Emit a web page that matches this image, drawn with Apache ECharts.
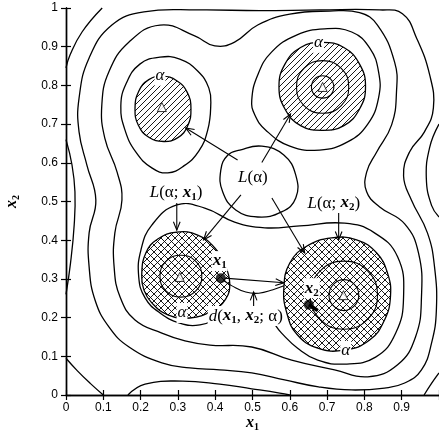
<!DOCTYPE html>
<html><head><meta charset="utf-8">
<script src="https://cdn.jsdelivr.net/npm/echarts@6/dist/echarts.min.js"></script>
<style>html,body{margin:0;padding:0;background:#fff}#c{width:439px;height:430px}</style>
</head><body><div id="c"></div>
<script>
// ---- axis ticks ----
const xTickValues = [0,0.1,0.2,0.3,0.4,0.5,0.6,0.7,0.8,0.9];
const yTickValues = [0,0.1,0.2,0.3,0.4,0.5,0.6,0.7,0.8,0.9,1];

// ---- open contour pieces (touching the frame) ----
const cornerBL = [[0,0.095],[0.03,0.063],[0.065,0.03],[0.1,0]];
const cornerTL = [[0,0.845],[0.011,0.879],[0.043,0.938],[0.097,1.0]];
const leftDent = [[0,0.66],[0.016,0.595],[0.024,0.525],[0.022,0.44],[0.012,0.34],[0,0.26]];
const bottomBump = [[0.166,0],[0.212,0.028],[0.313,0.036],[0.412,0.028],[0.498,0.016],[0.573,0.005],[0.6,0]];
const cornerBR = [[0.96,0],[0.98,0.03],[1.0,0.057]];
const rightDent = [[1.0,0.70],[0.975,0.64],[0.966,0.56],[0.98,0.49],[1.0,0.46]];

// ---- closed contours ----
const ringA = [[0.257,0.083],[0.169,0.124],[0.115,0.176],[0.078,0.245],[0.062,0.331],[0.062,0.419],[0.080,0.504],[0.056,0.594],[0.035,0.680],[0.035,0.767],[0.062,0.871],[0.123,0.956],[0.209,0.99],[0.359,0.995],[0.519,0.993],[0.680,0.995],[0.841,0.995],[0.902,0.985],[0.940,0.922],[0.975,0.827],[0.985,0.742],[0.961,0.680],[0.921,0.628],[0.905,0.566],[0.926,0.504],[0.969,0.419],[0.988,0.331],[0.993,0.220],[0.980,0.134],[0.953,0.065],[0.908,0.031],[0.854,0.018],[0.766,0.013],[0.677,0.021],[0.586,0.039],[0.498,0.057],[0.412,0.065],[0.332,0.070]];
const ringB = [[0.145,0.253],[0.129,0.331],[0.131,0.419],[0.150,0.504],[0.137,0.576],[0.104,0.664],[0.096,0.749],[0.115,0.835],[0.169,0.912],[0.252,0.956],[0.345,0.928],[0.399,0.902],[0.452,0.912],[0.514,0.956],[0.600,0.984],[0.707,0.992],[0.787,0.988],[0.835,0.956],[0.881,0.860],[0.886,0.783],[0.873,0.698],[0.833,0.628],[0.806,0.576],[0.806,0.525],[0.841,0.486],[0.908,0.442],[0.945,0.367],[0.953,0.253],[0.937,0.150],[0.889,0.078],[0.809,0.047],[0.720,0.065],[0.605,0.090],[0.498,0.124],[0.386,0.129],[0.319,0.140],[0.257,0.160],[0.185,0.194]];
const dumbbell = [[0.195,0.305],[0.201,0.375],[0.230,0.439],[0.297,0.491],[0.372,0.483],[0.452,0.447],[0.533,0.432],[0.627,0.437],[0.747,0.444],[0.827,0.419],[0.889,0.357],[0.905,0.253],[0.884,0.160],[0.830,0.098],[0.747,0.080],[0.675,0.090],[0.621,0.121],[0.578,0.160],[0.535,0.207],[0.479,0.220],[0.418,0.202],[0.359,0.181],[0.305,0.186],[0.252,0.212],[0.212,0.251]];
const loopTL = [[0.252,0.873],[0.305,0.868],[0.353,0.837],[0.383,0.793],[0.388,0.747],[0.380,0.685],[0.356,0.630],[0.316,0.592],[0.273,0.574],[0.230,0.587],[0.187,0.628],[0.158,0.685],[0.147,0.747],[0.161,0.804],[0.198,0.855]];
const loopTR = [[0.498,0.762],[0.514,0.827],[0.551,0.886],[0.618,0.930],[0.693,0.946],[0.766,0.938],[0.814,0.897],[0.838,0.835],[0.838,0.768],[0.809,0.700],[0.755,0.654],[0.680,0.633],[0.600,0.643],[0.535,0.685],[0.506,0.724]];
const loopCenter = [[0.466,0.633],[0.525,0.643],[0.584,0.620],[0.616,0.568],[0.616,0.509],[0.578,0.473],[0.514,0.460],[0.455,0.478],[0.420,0.525],[0.415,0.581],[0.434,0.620]];
const ringTR1 = [[0.758,0.796],[0.738,0.844],[0.688,0.864],[0.638,0.844],[0.618,0.796],[0.638,0.748],[0.688,0.728],[0.738,0.748]];
const ringTR2 = [[0.718,0.796],[0.709,0.817],[0.688,0.825],[0.667,0.817],[0.658,0.796],[0.667,0.775],[0.688,0.767],[0.709,0.775]];
const ringBL1 = [[0.364,0.307],[0.348,0.345],[0.308,0.361],[0.268,0.345],[0.252,0.307],[0.268,0.269],[0.308,0.253],[0.348,0.269]];
const ringBR1 = [[0.835,0.258],[0.809,0.320],[0.745,0.346],[0.681,0.320],[0.655,0.258],[0.681,0.196],[0.745,0.170],[0.809,0.196]];
const ringBR2 = [[0.785,0.258],[0.773,0.286],[0.745,0.298],[0.717,0.286],[0.705,0.258],[0.717,0.230],[0.745,0.218],[0.773,0.230]];

// ---- hatched alpha-regions ----
const hatchTL = [[0.335,0.74],[0.325,0.782],[0.297,0.812],[0.258,0.824],[0.222,0.815],[0.195,0.785],[0.185,0.74],[0.194,0.697],[0.222,0.666],[0.262,0.655],[0.300,0.665],[0.326,0.695]];
const hatchTR = [[0.803,0.797],[0.787,0.855],[0.745,0.898],[0.687,0.911],[0.629,0.898],[0.587,0.855],[0.571,0.797],[0.587,0.739],[0.629,0.696],[0.687,0.684],[0.745,0.696],[0.787,0.739]];
const hatchBL = [[0.203,0.310],[0.214,0.367],[0.246,0.403],[0.297,0.421],[0.353,0.413],[0.399,0.380],[0.426,0.336],[0.439,0.289],[0.428,0.248],[0.391,0.217],[0.332,0.199],[0.273,0.207],[0.230,0.238],[0.209,0.271]];
const hatchBR = [[0.584,0.276],[0.600,0.341],[0.646,0.385],[0.712,0.406],[0.779,0.401],[0.833,0.367],[0.862,0.315],[0.870,0.256],[0.854,0.194],[0.814,0.142],[0.747,0.116],[0.675,0.121],[0.619,0.157],[0.592,0.212]];

// ---- peaks, points ----
const peakX = [0.257,0.688,0.305,0.744];
const peakY = [0.744,0.796,0.305,0.258];
const pointX = [0.415,0.651];
const pointY = [0.302,0.233];
const pathX1X2 = [[0.423,0.296],[0.445,0.282],[0.482,0.266],[0.517,0.263],[0.555,0.272],[0.584,0.282]];
const smearX2 = [[0.651,0.233],[0.663,0.226],[0.675,0.218]];

// ---- arrows [from, to] ----
const arrowList = [
  [[0.460,0.607],[0.321,0.690]],
  [[0.525,0.601],[0.602,0.726]],
  [[0.469,0.517],[0.369,0.401]],
  [[0.552,0.509],[0.640,0.367]],
  [[0.297,0.499],[0.297,0.426]],
  [[0.731,0.473],[0.731,0.401]],
  [[0.425,0.302],[0.584,0.290]],
  [[0.503,0.228],[0.503,0.266]]
];

// ---- annotation text ----
const labelPos = [[0.501,0.561],[0.295,0.522],[0.718,0.496],[0.252,0.825],[0.677,0.910],[0.311,0.212],[0.750,0.114],[0.412,0.346],[0.659,0.276],[0.482,0.204]];
const labelText = ['{i|L}(α)','{i|L}(α; {b|x}{s|1})','{i|L}(α; {b|x}{s|2})','{i|α}','{i|α}','{i|α}','{i|α}','{b|x}{s|1}','{b|x}{s|2}','{i|d}({b|x}{s|1}, {b|x}{s|2}; α)'];

// ---------------------------------------------------------------
const SERIF = "'Liberation Serif','Times New Roman',serif";
function mkPattern(cross){
  const s = cross ? 7 : 6;
  const c = document.createElement('canvas'); c.width = s; c.height = s;
  const g = c.getContext('2d');
  g.fillStyle = '#fff'; g.fillRect(0,0,s,s);
  g.strokeStyle = '#000'; g.lineWidth = 0.9;
  g.beginPath();
  g.moveTo(-1, s+1); g.lineTo(s+1, -1);
  g.moveTo(-1, 1); g.lineTo(1, -1);
  g.moveTo(s-1, s+1); g.lineTo(s+1, s-1);
  if (cross){
    g.moveTo(-1,-1); g.lineTo(s+1,s+1);
    g.moveTo(s-1,-1); g.lineTo(s+1,1);
    g.moveTo(-1,s-1); g.lineTo(1,s+1);
  }
  g.stroke();
  return c;
}
const patSingle = mkPattern(false), patCross = mkPattern(true);

function shapeSeries(list, closed, z, style){
  return {
    type:'custom', coordinateSystem:'cartesian2d', silent:true, z:z, clip:false,
    data: list.map(c => c[0]),
    renderItem: (params, api) => {
      const pts = list[params.dataIndex].map(p => api.coord(p));
      return {type: closed ? 'polygon' : 'polyline', shape:{points:pts, smooth:0.45},
        style: Object.assign({fill:'none', stroke:'#000', lineWidth:1.3}, style)};
    }
  };
}

const chart = echarts.init(document.getElementById('c'), null, {renderer:'canvas'});
const axisCommon = {
  type:'value', min:0, max:1, interval:0.1,
  axisLine:{show:true, lineStyle:{color:'#000', width:1.4}},
  axisTick:{show:true, inside:true, length:5, lineStyle:{color:'#000', width:1.2}},
  splitLine:{show:false}
};
const labelFont = {color:'#000', fontFamily:"'Liberation Sans',Arial,sans-serif", fontSize:12};
const fmt = v => (v === 0 ? '0' : (Math.abs(v-1) < 1e-9 ? '1' : v.toFixed(1)));
const nameRich = {b:{fontFamily:SERIF, fontStyle:'italic', fontWeight:'bold', fontSize:16, lineHeight:18}, s:{fontFamily:SERIF, fontSize:10, fontWeight:'bold', lineHeight:10, verticalAlign:'bottom'}};

chart.setOption({
  animation:false,
  backgroundColor:'#fff',
  grid:{left:66, right:0, top:8, bottom:35, containLabel:false, outerBoundsMode:'none'},
  xAxis:[
    Object.assign({}, axisCommon, {position:'bottom',
      axisLabel:Object.assign({margin:7, formatter: v => (xTickValues.some(t => Math.abs(t-v) < 1e-9) ? fmt(v) : '')}, labelFont),
      name:'{b|x}{s|1}', nameLocation:'middle', nameGap:19, nameMoveOverlap:false, nameTextStyle:{rich:nameRich}}),
    Object.assign({}, axisCommon, {position:'top', axisLabel:{show:false}})
  ],
  yAxis:[
    Object.assign({}, axisCommon, {position:'left',
      axisLabel:Object.assign({margin:8, formatter: v => (yTickValues.some(t => Math.abs(t-v) < 1e-9) ? fmt(v) : '')}, labelFont),
      name:'{b|x}{s|2}', nameLocation:'middle', nameGap:45, nameRotate:90, nameMoveOverlap:false, nameTextStyle:{rich:nameRich}}),
    Object.assign({}, axisCommon, {position:'right', axisLabel:{show:false}})
  ],
  series:[
    shapeSeries([hatchTL, hatchTR], true, 2, {fill:{image:patSingle, repeat:'repeat'}}),
    shapeSeries([hatchBL, hatchBR], true, 2, {fill:{image:patCross, repeat:'repeat'}}),
    shapeSeries([cornerBL, cornerTL, leftDent, bottomBump, cornerBR, rightDent], false, 3, {}),
    shapeSeries([ringA, ringB, dumbbell, loopTL, loopTR, loopCenter], true, 3, {}),
    shapeSeries([ringTR1, ringTR2, ringBL1, ringBR1, ringBR2], true, 4, {lineWidth:1.1}),
    shapeSeries([pathX1X2], false, 4, {lineWidth:1.1}),
    shapeSeries([smearX2], false, 8, {lineWidth:3.5}),
    {
      type:'scatter', silent:true, z:5, symbol:'triangle', symbolSize:9,
      itemStyle:{color:'#fff', borderColor:'#000', borderWidth:1},
      data: peakX.map((x,i) => [x, peakY[i]])
    },
    {
      type:'scatter', silent:true, z:9, symbol:'circle', symbolSize:10,
      itemStyle:{color:'#000'},
      data: pointX.map((x,i) => [x, pointY[i]])
    },
    {
      type:'custom', coordinateSystem:'cartesian2d', silent:true, z:6, clip:false,
      data: arrowList.map(a => a[0]),
      renderItem:(params, api) => {
        const a = arrowList[params.dataIndex];
        const p1 = api.coord(a[0]), p2 = api.coord(a[1]);
        const ang = Math.atan2(p2[1]-p1[1], p2[0]-p1[0]);
        const L = 9, w = 0.38;
        const h1 = [p2[0]-L*Math.cos(ang-w), p2[1]-L*Math.sin(ang-w)];
        const h2 = [p2[0]-L*Math.cos(ang+w), p2[1]-L*Math.sin(ang+w)];
        return {type:'group', children:[
          {type:'line', shape:{x1:p1[0], y1:p1[1], x2:p2[0], y2:p2[1]}, style:{stroke:'#000', lineWidth:1.1}},
          {type:'polyline', shape:{points:[h1, p2, h2]}, style:{stroke:'#000', fill:'none', lineWidth:1.1}}
        ]};
      }
    },
    {
      type:'custom', coordinateSystem:'cartesian2d', silent:true, z:7, clip:false,
      data: labelPos,
      renderItem:(params, api) => {
        const p = api.coord(labelPos[params.dataIndex]);
        return {type:'text', x:p[0], y:p[1], style:{
          text: labelText[params.dataIndex], align:'center', verticalAlign:'middle',
          fontFamily:SERIF, fontSize:17, fill:'#000', backgroundColor:'#fff', padding:[0,1,0,1],
          rich:{
            i:{fontFamily:SERIF, fontStyle:'italic', fontSize:17, lineHeight:20},
            b:{fontFamily:SERIF, fontStyle:'italic', fontWeight:'bold', fontSize:17, lineHeight:20},
            s:{fontFamily:SERIF, fontWeight:'bold', fontSize:11, lineHeight:11, verticalAlign:'bottom'}
          }
        }};
      }
    }
  ]
});
</script></body></html>
